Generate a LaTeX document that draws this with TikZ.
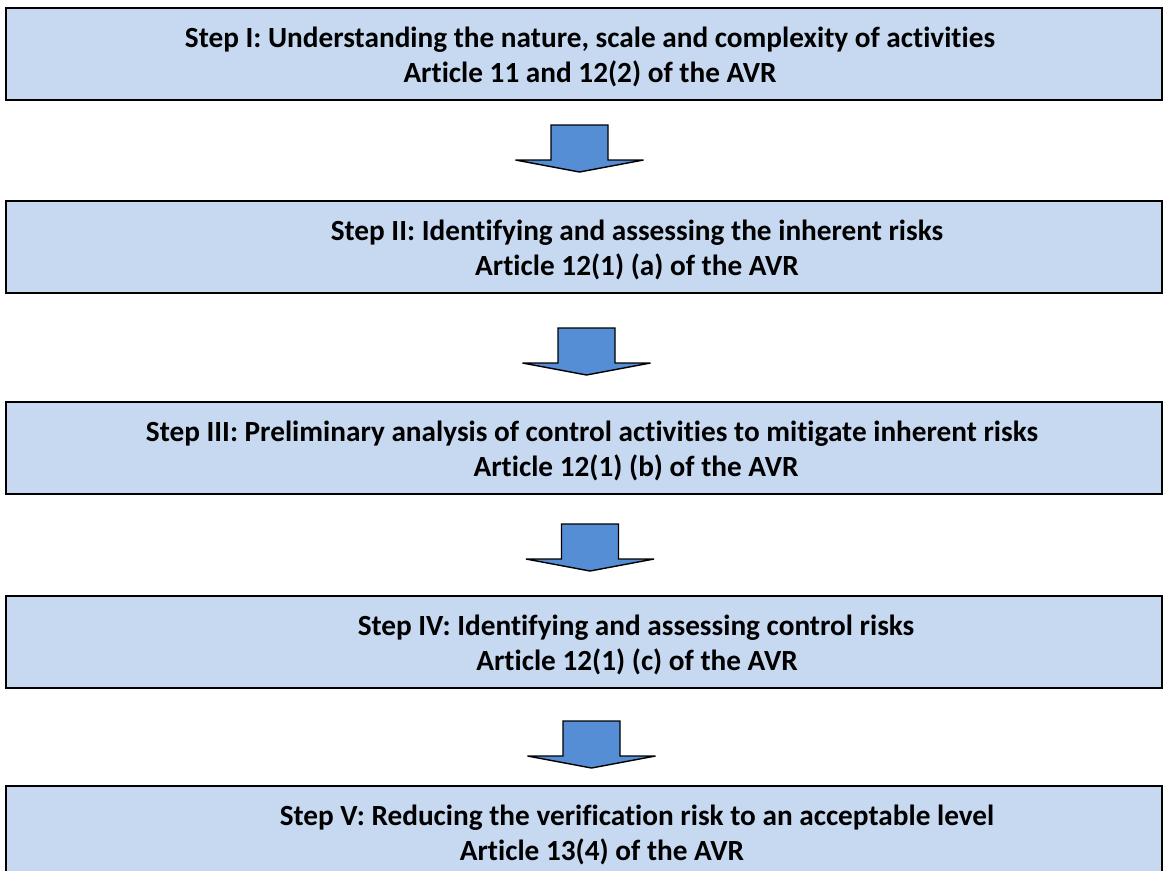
\documentclass[tikz,border=0pt]{standalone}
\usepackage{fontspec}
\setmainfont{Carlito}[Ligatures=NoCommon]
\definecolor{boxblue}{HTML}{C6D9F1}
\definecolor{arrowblue}{HTML}{558ED5}
\tikzset{
  stepbox/.style={draw=black, line width=1.1pt, fill=boxblue, minimum width=28.9cm, minimum height=2.3cm, inner sep=0pt},
  steptext/.style={anchor=base, font=\fontsize{20.8}{24}\selectfont\bfseries, inner sep=0pt},
  downarrow/.style={draw=black, line width=1pt, fill=arrowblue, line join=miter}
}

\begin{document}
\begin{tikzpicture}[x=0.025cm, y=-0.025cm]
\useasboundingbox (0,0) rectangle (1163,870);
\clip (0,0) rectangle (1163,870);

% Step boxes
\node[stepbox] (s1) at (584,54) {};
\node[stepbox] (s2) at (584,247) {};
\node[stepbox] (s3) at (584,448) {};
\node[stepbox] (s4) at (584,642) {};
\node[stepbox] (s5) at (584,832) {};

% Step texts
\node[steptext] (s1a) at (590,47) {Step I: Understanding the nature, scale and complexity of activities};
\node[steptext] (s1b) at (590,82) {Article 11 and 12(2) of the AVR};
\node[steptext] (s2a) at (637,240) {Step II: Identifying and assessing the inherent risks};
\node[steptext] (s2b) at (637,275) {Article 12(1) (a) of the AVR};
\node[steptext] (s3a) at (592,441) {Step III: Preliminary analysis of control activities to mitigate inherent risks};
\node[steptext] (s3b) at (636,476) {Article 12(1) (b) of the AVR};
\node[steptext] (s4a) at (636,635) {Step IV: Identifying and assessing control risks};
\node[steptext] (s4b) at (637,670) {Article 12(1) (c) of the AVR};
\node[steptext] (s5a) at (637,825) {Step V: Reducing the verification risk to an acceptable level};
\node[steptext] (s5b) at (602,860) {Article 13(4) of the AVR};

% Block arrows between steps
\foreach \cx/\ty in {579.5/125, 586.5/328, 590/524, 591.5/721} {
  \draw[downarrow] (\cx-28.5,\ty) -- (\cx+28.5,\ty) -- (\cx+28.5,\ty+35) -- (\cx+64,\ty+35)
    -- (\cx,\ty+47) -- (\cx-64,\ty+35) -- (\cx-28.5,\ty+35) -- cycle;
}
\end{tikzpicture}
\end{document}
